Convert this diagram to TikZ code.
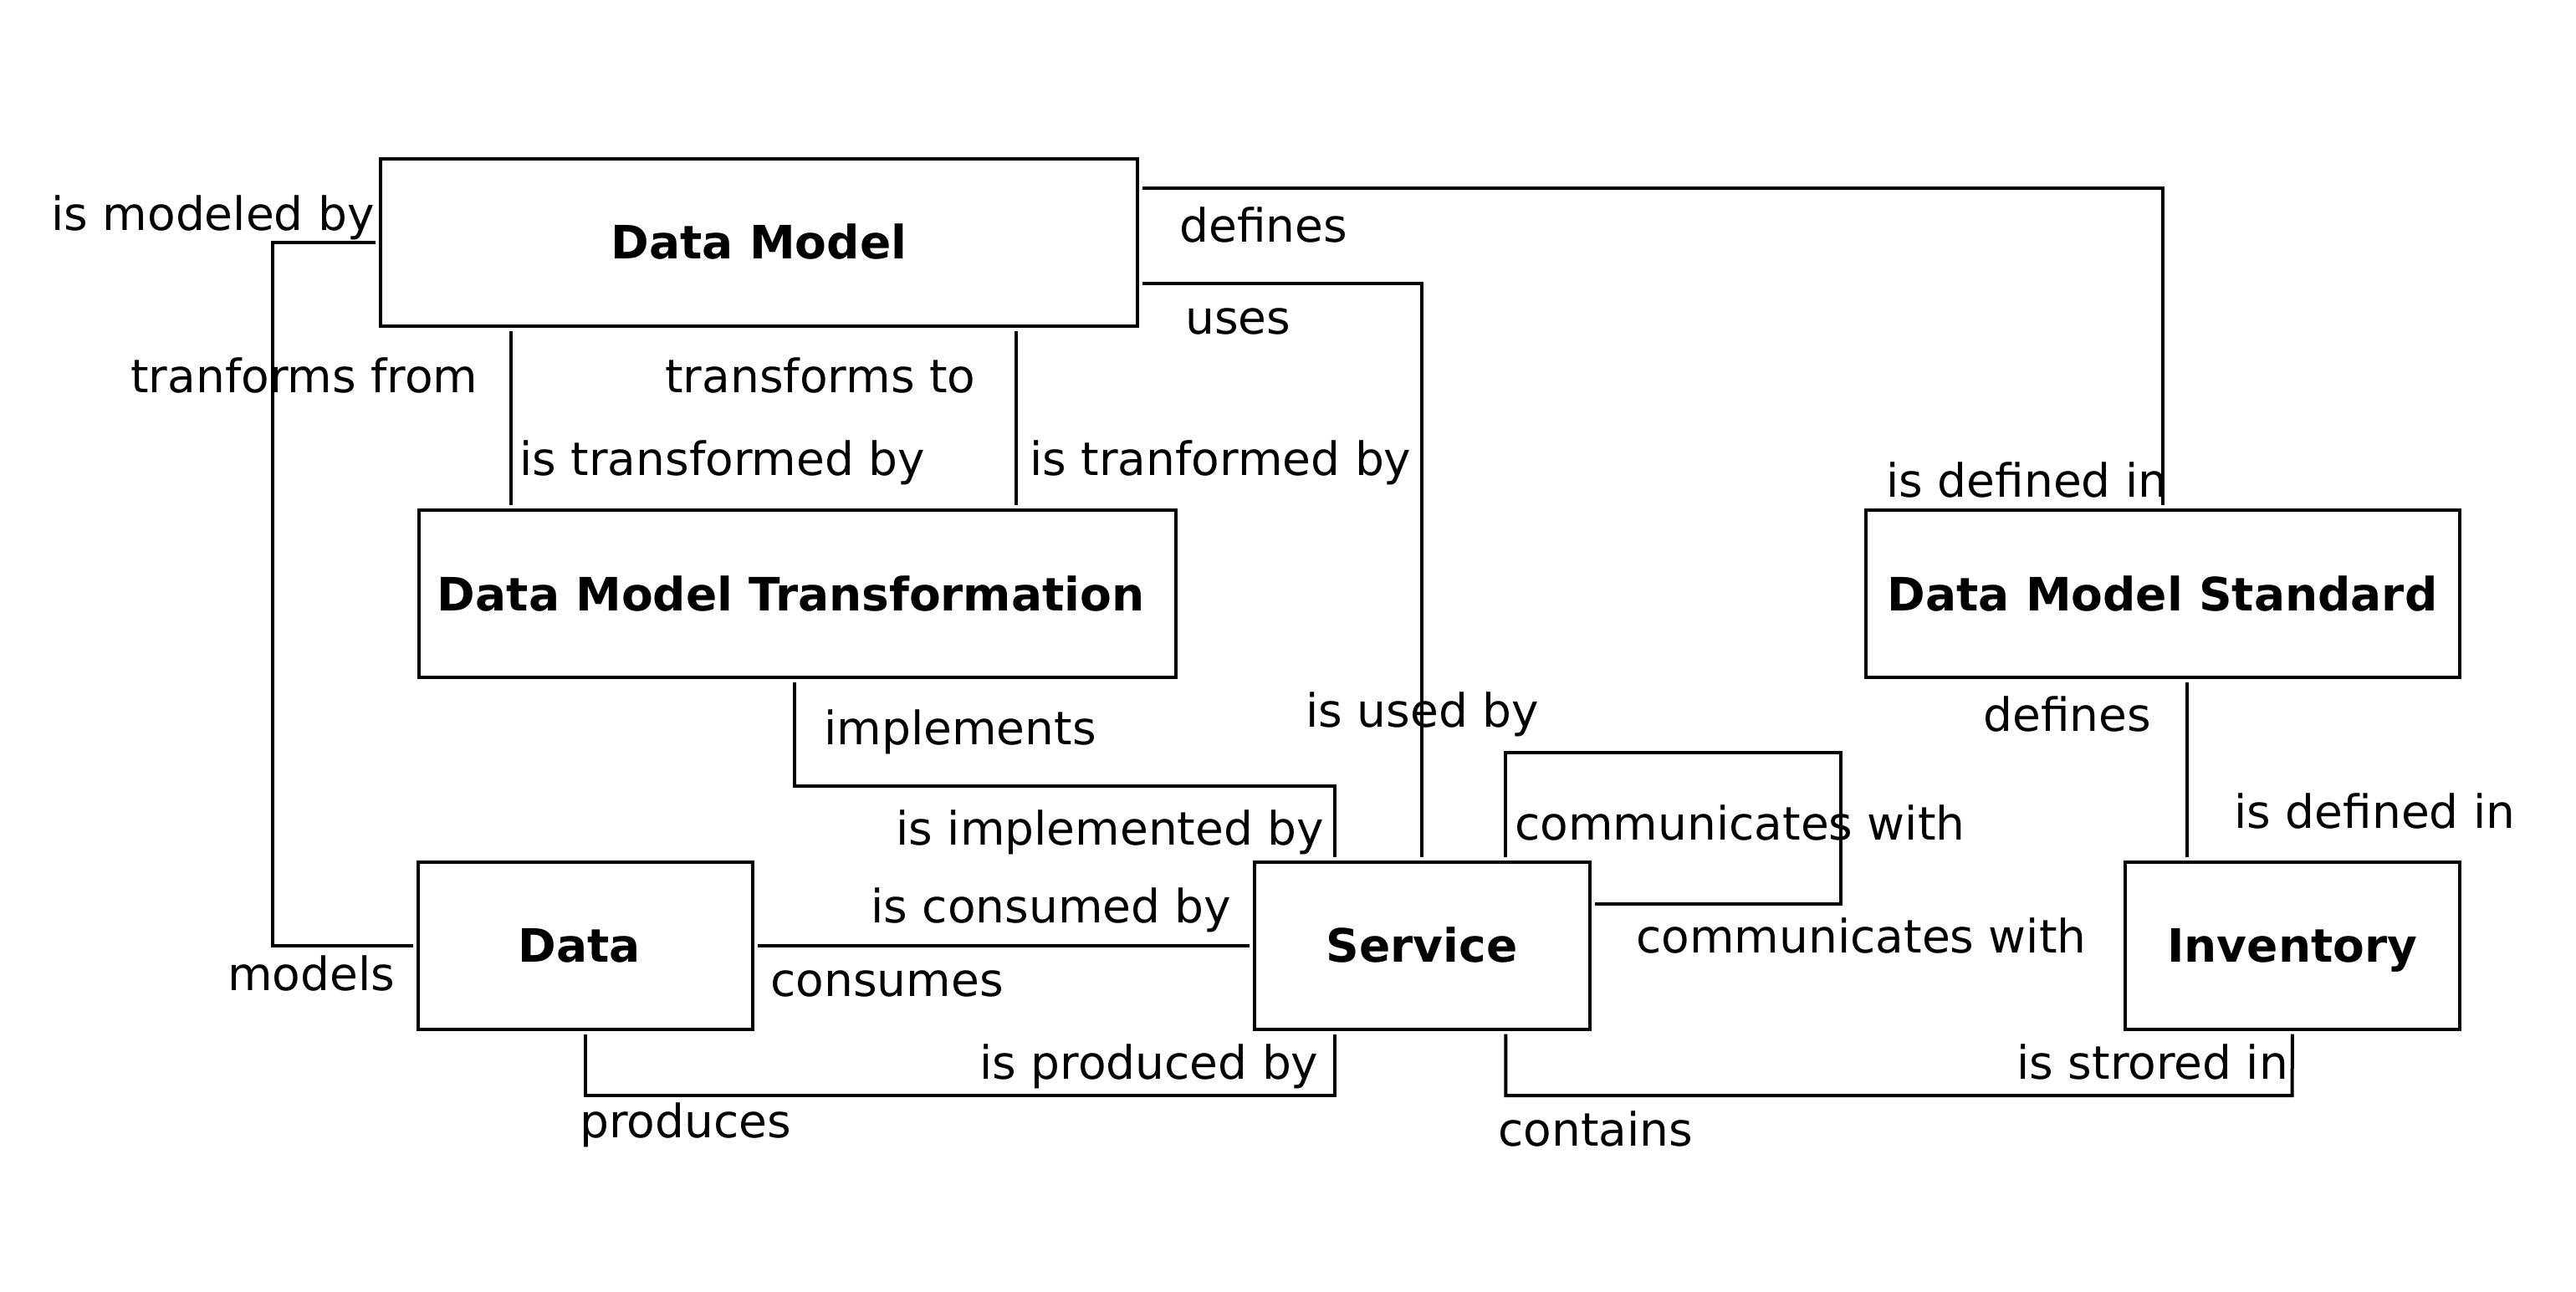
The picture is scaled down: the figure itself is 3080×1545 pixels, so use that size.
\documentclass[tikz,border=0pt]{standalone}
\usepackage{fontspec}
\setmainfont{DejaVu Sans}
\begin{document}
\begin{tikzpicture}[x=0.5pt,y=-0.5pt,
  box/.style={draw, line width=2pt, minimum height=100pt, inner sep=0pt,
    font=\bfseries\fontsize{27.5}{33}\selectfont, text height=20.05pt, text depth=0pt},
  conn/.style={line width=2pt, shorten <=2pt, shorten >=2pt},
  lab/.style={font=\fontsize{27.5}{33}\selectfont, anchor=base west, inner sep=0pt, xshift=1.5pt}]
\useasboundingbox (0,0) rectangle (3080,1545);
% boxes
\node[box, minimum width=452.75pt] (DM)  at (907.5,289.8)  {Data Model};
\node[box, minimum width=452.3pt]  (DMT) at (953.2,710.3)  {Data Model Transformation\hspace*{7.5pt}};
\node[box, minimum width=355pt]    (DMS) at (2585.5,710.2) {Data Model Standard};
\node[box, minimum width=200pt]    (Data) at (700.45,1130.7) {Data\hspace*{7.5pt}};
\node[box, minimum width=200.3pt]  (Service) at (1700.3,1130.7) {Service};
\node[box, minimum width=199.75pt] (Inventory) at (2740.75,1130.7) {Inventory};
% connectors
\draw[conn] (DM.west) -| (326,0 |- Data.west) -- (Data.west);
\draw[conn] (DM.south -| 611,0) -- (DMT.north -| 611,0);
\draw[conn] (DM.south -| 1215,0) -- (DMT.north -| 1215,0);
\draw[conn] (DM.east |- 0,225) -| (DMS.north);
\draw[conn] (DM.east |- 0,339.5) -| (Service.north);
\draw[conn] (DMT.south -| 950,0) |- (1595.6,939.5) -- (Service.north -| 1595.6,0);
\draw[conn] (Data.east) -- (Service.west);
\draw[conn] (Data.south) |- (1595.6,1310) -- (Service.south -| 1595.6,0);
\draw[conn] (Service.north -| 1800.3,0) |- (2200.6,900) |- (Service.east |- 0,1080.5);
\draw[conn] (Service.south -| 1800.3,0) |- (2740.7,1310) -- (Inventory.south);
\draw[conn] (DMS.south -| 2615,0) -- (Inventory.north -| 2615,0);
% labels
\node[lab] (l1) at (58,275.5) {is modeled by};
\node[lab] (l2) at (1407,289.4) {defines};
\node[lab] (l3) at (1414,399.6) {uses};
\node[lab] (l4) at (153,469.4) {tranforms from};
\node[lab] (l5) at (792,469.4) {transforms to};
\node[lab] (l6) at (618,569) {is transformed by};
\node[lab] (l7) at (1228,569) {is tranformed by};
\node[lab] (l8) at (2252,594.5) {is defined in};
\node[lab] (l9) at (982,890.5) {implements};
\node[lab] (l10) at (1558,869) {is used by};
\node[lab] (l11) at (2368,874.5) {defines};
\node[lab] (l12) at (2668,990) {is defined in};
\node[lab] (l13) at (1808,1004.4) {communicates with};
\node[lab] (l14) at (1068,1010) {is implemented by};
\node[lab] (l15) at (1038,1103.8) {is consumed by};
\node[lab] (l16) at (1953,1139.7) {communicates with};
\node[lab] (l17) at (269,1184.7) {models};
\node[lab] (l18) at (918,1191) {consumes};
\node[lab] (l19) at (1168,1290) {is produced by};
\node[lab] (l20) at (2408,1290) {is strored in};
\node[lab] (l21) at (690,1360) {produces};
\node[lab] (l22) at (1788,1370) {contains};
\end{tikzpicture}
\end{document}
